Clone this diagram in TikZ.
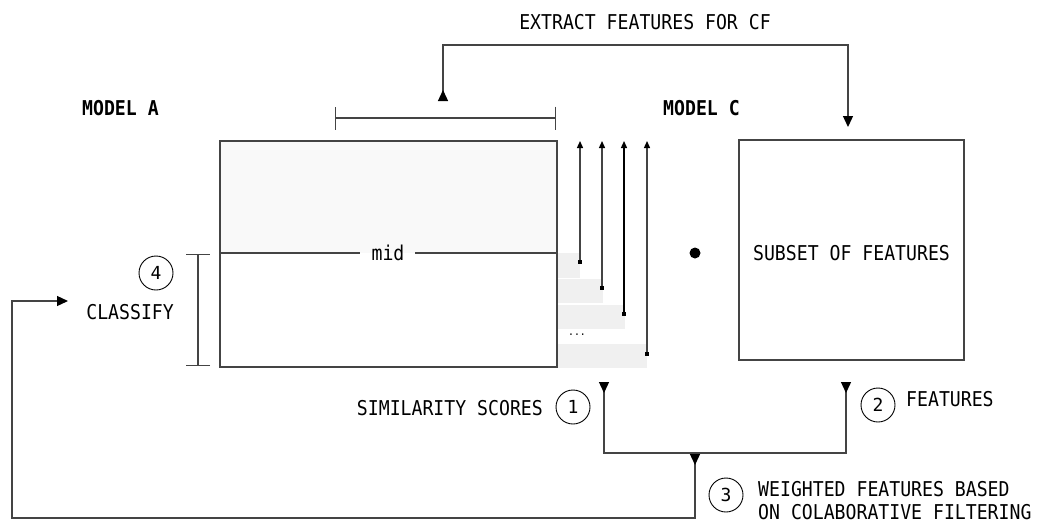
\documentclass[tikz,border=0pt]{standalone}
\usepackage{fontspec}
\setmainfont{DejaVu Sans Mono}[FakeStretch=0.89]
\newfontfamily\numfont{DejaVu Sans Mono}
\usetikzlibrary{arrows.meta}
\definecolor{linegray}{HTML}{444444}
\definecolor{topfill}{HTML}{F9F9F9}
\definecolor{stripfill}{HTML}{F0F0F0}
\tikzset{
  lbl/.style={inner sep=0pt, font=\fontsize{20.4}{23}\selectfont},
  numcirc/.style={draw=black, circle, minimum size=34pt, inner sep=0pt, line width=0.9pt, font=\numfont\fontsize{18}{22}\selectfont},
  conn/.style={draw=linegray, line width=1.3pt},
  bigtri/.tip={Triangle[length=11pt,width=10pt,color=black]},
  smalltri/.tip={Triangle[length=7pt,width=6pt,color=black]},
  sqtip/.tip={Square[length=4pt,width=4pt,color=black]},
}
\begin{document}
\begin{tikzpicture}[x=1pt,y=-1pt]
\useasboundingbox (0,0) rectangle (1040,523);
% title
\node[lbl] (title) at (645,22) {EXTRACT FEATURES FOR CF};
\node[lbl, anchor=west, font=\fontsize{20.4}{23}\selectfont\bfseries] (modela) at (82,108) {MODEL A};
\node[lbl, anchor=west, font=\fontsize{20.4}{23}\selectfont\bfseries] (modelc) at (663,108) {MODEL C};
% strips
\fill[stripfill] (557,253) rectangle (580,278);
\fill[stripfill] (557,279) rectangle (603,303);
\fill[stripfill] (557,305) rectangle (625,329);
\fill[stripfill] (557,344) rectangle (647,368);
\node[inner sep=0pt, font=\fontsize{11}{12}\selectfont] (dots) at (577,335) {...};
% model A rectangle
\fill[topfill] (220,141) rectangle (557,253);
\node[draw=linegray, line width=1.3pt, minimum width=337pt, minimum height=226pt, inner sep=0pt] (rectA) at (388.5,254) {};
\node[lbl] (mid) at (388,253) {mid};
\coordinate (midL) at (220,253);
\coordinate (midR) at (557,253);
\coordinate (midLe) at (360,253);
\coordinate (midRe) at (415,253);
\draw[conn] (midL) -- (midLe);
\draw[conn] (midR) -- (midRe);
% model C box
\node[draw=linegray, line width=1.3pt, minimum width=225pt, minimum height=220pt, inner sep=0pt] (boxC) at (851.5,250) {};
\node[lbl] (subset) at (851.5,253) {SUBSET OF FEATURES};
\fill[black] (695,253) circle (5.5pt);
% top bracket
\coordinate (brL) at (335,118);
\coordinate (brR) at (556,118);
\draw[conn, {Bar[width=23pt]}-{Bar[width=23pt]}] (brL) -- (brR);
% left bracket
\coordinate (lbT) at (198,254);
\coordinate (lbB) at (198,366);
\draw[conn, {Bar[width=24pt]}-{Bar[width=24pt]}] (lbT) -- (lbB);
% extract features connector
\coordinate (exS) at (443,101);
\coordinate (exE) at (848,127);
\draw[conn, {bigtri[reversed]}-{bigtri}] (exS) -- (443,45) -- (848,45) -- (exE);
% score arrows
\coordinate (a1s) at (580,264); \coordinate (a1e) at (580,141);
\coordinate (a2s) at (602,290); \coordinate (a2e) at (602,141);
\coordinate (a3s) at (624,316); \coordinate (a3e) at (624,141);
\coordinate (a4s) at (647,356); \coordinate (a4e) at (647,141);
\draw[conn, {sqtip}-{smalltri}] (a1s) -- (a1e);
\draw[conn, {sqtip}-{smalltri}] (a2s) -- (a2e);
\draw[conn, draw=black, {sqtip}-{smalltri}] (a3s) -- (a3e);
\draw[conn, {sqtip}-{smalltri}] (a4s) -- (a4e);
% merge connectors
\coordinate (m1) at (604,382);
\coordinate (m2) at (846,382);
\coordinate (m3) at (695,454);
\coordinate (cls) at (68,301);
\draw[conn, {bigtri[reversed]}-{bigtri[reversed]}] (m1) -- (604,453) -- (846,453) -- (m2);
\draw[conn, {bigtri[reversed]}-{bigtri}] (m3) -- (695,518) -- (12,518) -- (12,301) -- (cls);
% labels
\node[numcirc] (c4) at (156,273) {4};
\node[lbl, anchor=east] (classify) at (174,312) {CLASSIFY};
\node[lbl, anchor=east] (sim) at (543,408) {SIMILARITY SCORES};
\node[numcirc] (c1) at (573,407) {1};
\node[numcirc] (c2) at (878,405) {2};
\node[lbl, anchor=west] (feat) at (906,399) {FEATURES};
\node[numcirc] (c3) at (726,495) {3};
\node[lbl, anchor=west, align=left] (weighted) at (758,501) {WEIGHTED FEATURES BASED\\ON COLABORATIVE FILTERING};
\end{tikzpicture}
\end{document}
